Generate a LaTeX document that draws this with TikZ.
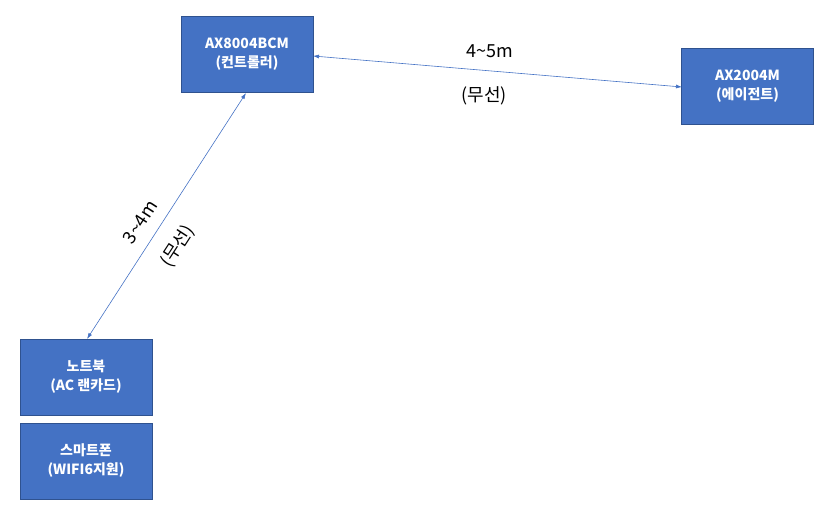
\documentclass[tikz,border=0pt]{standalone}
\usepackage{fontspec}
\setmainfont{Noto Sans CJK KR}
\usetikzlibrary{arrows.meta}
\definecolor{boxfill}{RGB}{68,114,196}
\definecolor{boxline}{RGB}{47,82,143}
\tikzset{
  dev/.style={draw=boxline, fill=boxfill, line width=0.8pt, minimum width=132pt, minimum height=76pt,
    text=white, font=\fontsize{14}{19}\selectfont\bfseries, align=center, inner sep=0pt},
  link/.style={draw=boxfill, line width=0.6pt, {Latex[length=6pt,width=4pt]}-{Latex[length=6pt,width=4pt]}},
  lbl/.style={font=\fontsize{18}{20}\selectfont, text=black, inner sep=0pt}
}
\begin{document}
\begin{tikzpicture}[x=1pt,y=-1pt]
    \useasboundingbox (0,0) rectangle (825,508);

    \node [dev] (ctrl) at (247,54) {AX8004BCM\\(컨트롤러)};
    \node [dev] (agent) at (747.5,86) {AX2004M\\(에이전트)};
    \node [dev] (nb) at (86,377) {노트북\\(AC 랜카드)};
    \node [dev] (phone) at (86,461) {스마트폰\\(WIFI6지원)};

    \coordinate (c1) at (313,56);
    \coordinate (a1) at (682,87);
    \coordinate (c2) at (246,93);
    \coordinate (n1) at (87,339);
    \draw [link] (c1) -- (a1);
    \draw [link] (c2) -- (n1);

    \node [lbl] (d1) at (490,51) {4\textasciitilde5m};
    \node [lbl] (w1) at (484,96) {(무선)};
    \node [lbl, rotate=57] (d2) at (140,222) {3\textasciitilde4m};
    \node [lbl, rotate=57] (w2) at (178,246) {(무선)};
\end{tikzpicture}
\end{document}
